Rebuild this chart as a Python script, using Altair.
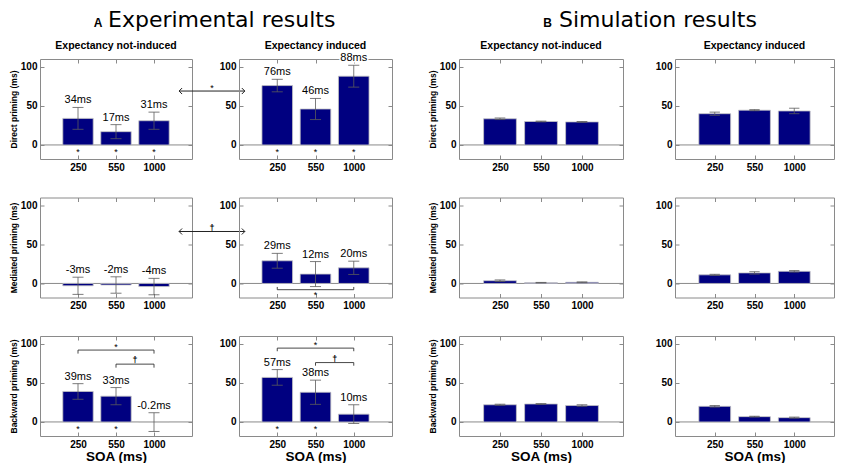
import altair as alt
import pandas as pd

# ---------------- data ----------------
SOA = ["250", "550", "1000"]
POS = [1, 2, 3]
X_DOM = [0, 4]
Y_DOM = [-18, 110]
Y_TICKS = [0, 50, 100]

ROW_TITLES = ["Direct priming (ms)", "Mediated priming (ms)", "Backward priming (ms)"]
COL_TITLES = ["Expectancy not-induced", "Expectancy induced"]
SECTIONS = [("A", "Experimental results"), ("B", "Simulation results")]
X_TITLE = "SOA (ms)"

# Experimental results
exp_dir_ni = [34, 17, 31]
exp_dir_ni_err = [14, 9, 11]
exp_dir_in = [76, 46, 88]
exp_dir_in_err = [8, 13.5, 14]
exp_med_ni = [-3, -2, -4]
exp_med_ni_err = [11, 10.5, 10.5]
exp_med_in = [29, 12, 20]
exp_med_in_err = [9.5, 16, 8.5]
exp_bwd_ni = [39, 33, -0.2]
exp_bwd_ni_err = [10, 11, 12]
exp_bwd_in = [57, 38, 10]
exp_bwd_in_err = [10, 15.5, 12]

# significance below bars
stars_dir_ni = [1, 1, 1]
stars_dir_in = [1, 1, 1]
stars_bwd_ni = [1, 1, 0]
stars_bwd_in = [1, 1, 0]
STAR_Y = -6.5

# Simulation results
sim_dir_ni = [33.5, 30, 29.5]
sim_dir_ni_err = [1, 0.5, 0.5]
sim_dir_in = [40, 44.5, 43.5]
sim_dir_in_err = [2, 0.7, 3.5]
sim_med_ni = [3.5, 1, 1.5]
sim_med_ni_err = [1, 0.3, 0.5]
sim_med_in = [11, 13.5, 15.5]
sim_med_in_err = [0.7, 1.5, 1]
sim_bwd_ni = [22, 23, 21]
sim_bwd_ni_err = [0.7, 0.5, 1]
sim_bwd_in = [20, 6.8, 5.5]
sim_bwd_in_err = [1, 0.5, 0.7]

# comparison brackets: x1, x2, line y, end y, symbol, symbol y
brk_med_in = [dict(x1=1, x2=3, y=-8, ye=-4.5, sym="*", ys=-13)]
brk_bwd_ni = [dict(x1=1, x2=3, y=92, ye=87.5, sym="*", ys=97),
              dict(x1=2, x2=3, y=74, ye=69.5, sym="\u2020", ys=80)]
brk_bwd_in = [dict(x1=1, x2=3, y=94.5, ye=90.5, sym="*", ys=99.5),
              dict(x1=2, x2=3, y=76, ye=72, sym="\u2020", ys=82)]
# arrows between not-induced and induced panels (in left panel units)
arr_dir = dict(x1=3.66, x2=5.39, y=69, sym="*", ys=74)
arr_med = dict(x1=3.66, x2=5.39, y=66.5, sym="\u2020", ys=72.5)

# ---------------- style ----------------
FONT = "Liberation Sans"
NAVY = "#000080"
GRAY = "#8a8a8a"
ECOL = "#5a5a5a"
W_A1, W_A2, W_B1, W_B2 = 152, 153, 164, 159
GAPS = [47, 67, 52]
H = 100

XS = alt.Scale(domain=X_DOM, nice=False, zero=False)
YS = alt.Scale(domain=Y_DOM, nice=False, zero=False)
LABEL_EXPR = "[''," + ",".join("'%s'" % s for s in SOA) + "][datum.value]"


def xaxis(title):
    kw = dict(values=POS, labelExpr=LABEL_EXPR, orient="bottom", offset=-4, tickSize=4,
              domain=False, tickColor=GRAY, labelFont=FONT, labelFontWeight="bold",
              labelFontSize=10, labelColor="black", labelPadding=3, grid=False, labelAngle=0)
    if title:
        kw.update(title=title, titleFont=FONT, titleFontWeight="bold", titleFontSize=13.5,
                  titleColor="black", titlePadding=0)
    else:
        kw["title"] = None
    return alt.Axis(**kw)


def yaxis(title):
    kw = dict(values=Y_TICKS, orient="left", offset=-4, tickSize=4, domain=False,
              tickColor=GRAY, labelFont=FONT, labelFontWeight="bold", labelFontSize=10,
              labelColor="black", labelPadding=3, grid=False, minExtent=24, maxExtent=24)
    if title:
        kw.update(title=title, titleFont=FONT, titleFontWeight="bold", titleFontSize=8.5,
                  titleColor="black", titlePadding=2)
    else:
        kw["title"] = None
    return alt.Axis(**kw)


def tick_axis(orient, values):
    return alt.Axis(orient=orient, values=values, labels=False, offset=-4, tickSize=4,
                    domain=False, tickColor=GRAY, title=None, grid=False)


def sym_text(chart, xf, yf):
    out = []
    for is_star, weight in ((True, "normal"), (False, "bold")):
        cond = "datum.sym == '*'" if is_star else "datum.sym != '*'"
        out.append(chart.transform_filter(cond).mark_text(
            font=FONT, fontSize=9, fontWeight=weight, baseline="alphabetic",
            dy=4, color="black").encode(
            x=alt.X(xf, scale=XS, axis=None), y=alt.Y(yf, scale=YS, axis=None),
            text="sym:N"))
    return out


def panel(vals, errs, width, stars=None, labels=False, ytitle=None, xtitle=None,
          coltitle=None, brackets=(), arrow=None, section=None, cap=0.145):
    df = pd.DataFrame({"pos": POS, "v": vals, "e": errs})
    df["lo"] = df["v"] - df["e"]
    df["hi"] = df["v"] + df["e"]
    df["x1"] = df["pos"] - 0.4
    df["x2"] = df["pos"] + 0.4
    df["c1"] = df["pos"] - cap
    df["c2"] = df["pos"] + cap
    df["zero"] = 0.0
    df["label"] = ["%gms" % v for v in vals]
    df["star"] = stars if stars else [0] * len(vals)
    df["sy"] = STAR_Y
    base = alt.Chart(df)

    zdf = pd.DataFrame({"a": [X_DOM[0]], "b": [X_DOM[1]], "y": [0.0]})
    zero = alt.Chart(zdf).mark_rule(color=GRAY, strokeWidth=1).encode(
        x=alt.X("a:Q", scale=XS, axis=None), x2="b:Q", y=alt.Y("y:Q", scale=YS, axis=None))

    bars = base.mark_rect(fill=NAVY, stroke="#c4c4c4", strokeWidth=0.8).encode(
        x=alt.X("x1:Q", scale=XS, axis=xaxis(xtitle)), x2="x2:Q",
        y=alt.Y("v:Q", scale=YS, axis=yaxis(ytitle)), y2="zero:Q")

    ticks = base.mark_point(opacity=0).encode(
        x=alt.X("pos:Q", scale=XS, axis=tick_axis("top", POS)),
        y=alt.Y("v:Q", scale=YS, axis=tick_axis("right", Y_TICKS)))

    err = base.mark_rule(color=ECOL, strokeWidth=0.8).encode(
        x=alt.X("pos:Q", scale=XS, axis=None), y=alt.Y("lo:Q", scale=YS, axis=None), y2="hi:Q")
    cap_hi = base.mark_rule(color=ECOL, strokeWidth=0.8).encode(
        x=alt.X("c1:Q", scale=XS, axis=None), x2="c2:Q", y=alt.Y("hi:Q", scale=YS, axis=None))
    cap_lo = base.mark_rule(color=ECOL, strokeWidth=0.8).encode(
        x=alt.X("c1:Q", scale=XS, axis=None), x2="c2:Q", y=alt.Y("lo:Q", scale=YS, axis=None))

    layers = [zero, bars, ticks, err, cap_hi, cap_lo]

    if labels:
        for halo in (True, False):
            props = dict(font=FONT, fontSize=11, baseline="alphabetic", dy=-4)
            if halo:
                props.update(fill="white", stroke="white", strokeWidth=3)
            else:
                props.update(fill="black")
            layers.append(base.mark_text(**props).encode(
                x=alt.X("pos:Q", scale=XS, axis=None), y=alt.Y("hi:Q", scale=YS, axis=None),
                text="label:N"))

    if stars:
        layers.append(base.transform_filter("datum.star == 1").mark_text(
            text="*", font=FONT, fontSize=9, baseline="alphabetic", dy=5, color="black").encode(
            x=alt.X("pos:Q", scale=XS, axis=None), y=alt.Y("sy:Q", scale=YS, axis=None)))

    if brackets:
        bdf = pd.DataFrame(list(brackets))
        bdf["xm"] = (bdf["x1"] + bdf["x2"]) / 2
        bb = alt.Chart(bdf)
        layers.append(bb.mark_rule(color="#333", strokeWidth=0.9).encode(
            x=alt.X("x1:Q", scale=XS, axis=None), x2="x2:Q", y=alt.Y("y:Q", scale=YS, axis=None)))
        for col in ("x1", "x2"):
            layers.append(bb.mark_rule(color="#333", strokeWidth=0.9).encode(
                x=alt.X(col + ":Q", scale=XS, axis=None), y=alt.Y("y:Q", scale=YS, axis=None),
                y2="ye:Q"))
        layers.extend(sym_text(bb, "xm:Q", "ys:Q"))

    if arrow:
        adf = pd.DataFrame([arrow])
        adf["xm"] = (adf["x1"] + adf["x2"]) / 2
        ab = alt.Chart(adf)
        layers.append(ab.mark_rule(color="#222", strokeWidth=1).encode(
            x=alt.X("x1:Q", scale=XS, axis=None), x2="x2:Q", y=alt.Y("y:Q", scale=YS, axis=None)))
        layers.append(ab.mark_point(shape="M 1 -1 L 0 0 L 1 1", filled=False, size=36,
                                    color="#222", strokeWidth=1, opacity=1).encode(
            x=alt.X("x1:Q", scale=XS, axis=None), y=alt.Y("y:Q", scale=YS, axis=None)))
        layers.append(ab.mark_point(shape="M -1 -1 L 0 0 L -1 1", filled=False, size=36,
                                    color="#222", strokeWidth=1, opacity=1).encode(
            x=alt.X("x2:Q", scale=XS, axis=None), y=alt.Y("y:Q", scale=YS, axis=None)))
        layers.extend(sym_text(ab, "xm:Q", "ys:Q"))

    if coltitle:
        cdf = pd.DataFrame({"t": [coltitle]})
        layers.append(alt.Chart(cdf).mark_text(
            font=FONT, fontSize=10.5, fontWeight="bold", baseline="alphabetic",
            align="center", color="black").encode(
            x=alt.value(width / 2), y=alt.value(-10), text="t:N"))

    if section:
        letter, text, lx, tx = section
        sdf = pd.DataFrame({"l": [letter], "t": [text]})
        sb = alt.Chart(sdf)
        layers.append(sb.mark_text(font=FONT, fontSize=12, fontWeight="bold",
                                   baseline="alphabetic", align="center", color="black").encode(
            x=alt.value(lx), y=alt.value(-32.5), text="l:N"))
        layers.append(sb.mark_text(font="DejaVu Sans", fontSize=22, baseline="alphabetic",
                                   align="left", color="black").encode(
            x=alt.value(tx), y=alt.value(-32.5), text="t:N"))

    props = dict(width=width, height=H, view=alt.ViewBackground(stroke=GRAY, strokeWidth=1))
    return alt.layer(*layers).resolve_axis(x="independent", y="independent").properties(**props)


def spacer(w):
    sdf = pd.DataFrame({"a": [0]})
    return alt.Chart(sdf).mark_point(opacity=0).encode(
        x=alt.X("a:Q", axis=None), y=alt.Y("a:Q", axis=None)).properties(width=w, height=H)


rows = [
    [(exp_dir_ni, exp_dir_ni_err, stars_dir_ni, True, [], arr_dir),
     (exp_dir_in, exp_dir_in_err, stars_dir_in, True, [], None),
     (sim_dir_ni, sim_dir_ni_err, None, False, [], None),
     (sim_dir_in, sim_dir_in_err, None, False, [], None)],
    [(exp_med_ni, exp_med_ni_err, None, True, [], arr_med),
     (exp_med_in, exp_med_in_err, None, True, brk_med_in, None),
     (sim_med_ni, sim_med_ni_err, None, False, [], None),
     (sim_med_in, sim_med_in_err, None, False, [], None)],
    [(exp_bwd_ni, exp_bwd_ni_err, stars_bwd_ni, True, brk_bwd_ni, None),
     (exp_bwd_in, exp_bwd_in_err, stars_bwd_in, True, brk_bwd_in, None),
     (sim_bwd_ni, sim_bwd_ni_err, None, False, [], None),
     (sim_bwd_in, sim_bwd_in_err, None, False, [], None)],
]
widths = [W_A1, W_A2, W_B1, W_B2]
caps = [0.145, 0.145, 0.13, 0.13]
sec_pos = {0: (SECTIONS[0][0], SECTIONS[0][1], 58, 68),
           2: (SECTIONS[1][0], SECTIONS[1][1], 88.5, 100)}

cells = []
for r, row in enumerate(rows):
    for c, (v, e, st, lab, br, ar) in enumerate(row):
        cells.append(panel(
            v, e, widths[c], stars=st, labels=lab,
            ytitle=ROW_TITLES[r] if c in (0, 2) else None,
            xtitle=X_TITLE if r == 2 else None,
            coltitle=COL_TITLES[c % 2] if r == 0 else None,
            brackets=br, arrow=ar,
            section=sec_pos.get(c) if r == 0 else None,
            cap=caps[c]))
        if c < 3:
            cells.append(spacer(GAPS[c]))

chart = alt.concat(*cells, columns=7, spacing={"row": 38.5, "column": 0},
                   bounds="flush", align="each").properties(
    padding=0
).configure_view(stroke="transparent")

chart.save("out.html", embed_options={"renderer": "svg", "actions": False})
